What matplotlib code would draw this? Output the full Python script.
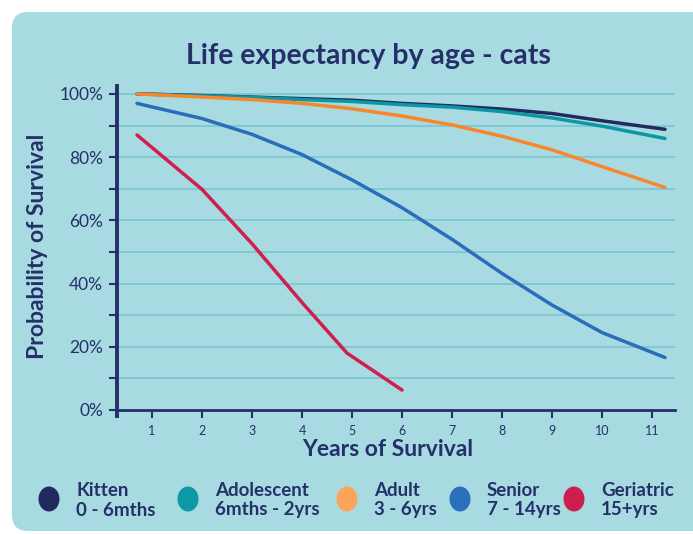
import matplotlib.pyplot as plt
from matplotlib.patches import FancyBboxPatch, Ellipse

plt.rcParams['font.family'] = ['Lato', 'DejaVu Sans']

# survival curves (x = years, y = % surviving)
kitten_x = [0.7, 2, 3, 4, 5, 6, 7, 8, 9, 10, 11.26]
kitten_y = [100, 99.5, 99.0, 98.5, 98.0, 97.0, 96.2, 95.2, 93.8, 91.5, 88.8]
adolescent_x = [0.7, 2, 3, 4, 5, 6, 7, 8, 9, 10, 11.26]
adolescent_y = [100, 99.4, 98.9, 98.2, 97.6, 96.6, 95.8, 94.4, 92.4, 89.8, 85.9]
adult_x = [0.7, 2, 3, 4, 5, 6, 7, 8, 9, 10, 11.26]
adult_y = [100, 99.0, 98.2, 97.0, 95.3, 93.0, 90.2, 86.6, 82.3, 77.0, 70.4]
senior_x = [0.7, 2, 3, 4, 5, 6, 7, 8, 9, 10, 11.26]
senior_y = [97, 92.2, 87.2, 80.8, 72.8, 64.0, 54.0, 43.2, 33.2, 24.5, 16.6]
geriatric_x = [0.7, 2, 3, 4, 4.9, 6]
geriatric_y = [87, 69.8, 52.6, 34.0, 18.0, 6.3]

series = [
    ('Kitten', '0 - 6mths', kitten_x, kitten_y, '#232a5e'),
    ('Adolescent', '6mths - 2yrs', adolescent_x, adolescent_y, '#0b97a3'),
    ('Adult', '3 - 6yrs', adult_x, adult_y, '#f7862c'),
    ('Senior', '7 - 14yrs', senior_x, senior_y, '#2a6dba'),
    ('Geriatric', '15+yrs', geriatric_x, geriatric_y, '#d01f4f'),
]
legend_colors = ['#23295e', '#0b9aa6', '#fba45a', '#2a70bb', '#cc1f50']
legend_x = [49, 188, 347, 460, 574]

navy = '#25306a'
panel = '#a8dbe1'
grid_col = '#7fc8d2'

fig = plt.figure(figsize=(6.93, 5.34), dpi=100)
fig.patch.set_facecolor('white')

# background panel + legend live on a pixel-coordinate overlay
bg = fig.add_axes([0, 0, 1, 1], zorder=0)
bg.set_xlim(0, 693)
bg.set_ylim(534, 0)
bg.axis('off')
bg.add_patch(FancyBboxPatch((12, 12), 720, 519, boxstyle='round,pad=0,rounding_size=16',
                            fc=panel, ec='none'))
bg.text(368, 56, 'Life expectancy by age - cats', ha='center', va='center',
        fontsize=20.5, fontweight='bold', color=navy)

for (name, sub, _, _, _), c, lx in zip(series, legend_colors, legend_x):
    bg.add_patch(Ellipse((lx, 499), 21, 25, fc=c, ec='none'))
    bg.text(lx + 27, 491, name, ha='left', va='center', fontsize=13.5,
            fontweight='bold', color=navy)
    bg.text(lx + 27, 510, sub, ha='left', va='center', fontsize=13.5,
            fontweight='bold', color=navy)

ax = fig.add_axes([117 / 693, (534 - 416.3) / 534, 558 / 693, 330.3 / 534], zorder=1)
ax.set_facecolor('none')
ax.set_xlim(0.3, 11.46)
ax.set_ylim(-2, 102.5)

for g in range(10, 101, 10):
    ax.axhline(g, color=grid_col, lw=1.4, zorder=1)

for name, sub, xs, ys, c in series:
    ax.plot(xs, ys, color=c, lw=2.5, solid_capstyle='round', zorder=3)

for s in ['top', 'right']:
    ax.spines[s].set_visible(False)
ax.spines['left'].set_color(navy)
ax.spines['left'].set_linewidth(2.8)
ax.spines['bottom'].set_position(('data', 0))
ax.spines['bottom'].set_color(navy)
ax.spines['bottom'].set_linewidth(2)

ax.set_yticks(range(0, 101, 20))
ax.set_yticklabels([f'{v}%' for v in range(0, 101, 20)])
ax.set_yticks(range(10, 100, 20), minor=True)
ax.set_xticks(range(1, 12))
ax.tick_params(axis='y', which='both', direction='out', length=6, width=1.5,
               color=navy, labelcolor=navy, labelsize=12.5, pad=4)
ax.tick_params(axis='x', direction='out', length=6, width=1.5, color=navy,
               labelcolor=navy, labelsize=9, pad=5)

ax.set_xlabel('Years of Survival', fontsize=16.5, fontweight='bold', color=navy, va='center')
ax.set_ylabel('Probability of Survival', fontsize=16.5, fontweight='bold', color=navy, va='center')
ax.xaxis.set_label_coords(0.4857, -0.102)
ax.yaxis.set_label_coords(-0.1416, 0.514)

fig.savefig('out.png', dpi=100)
